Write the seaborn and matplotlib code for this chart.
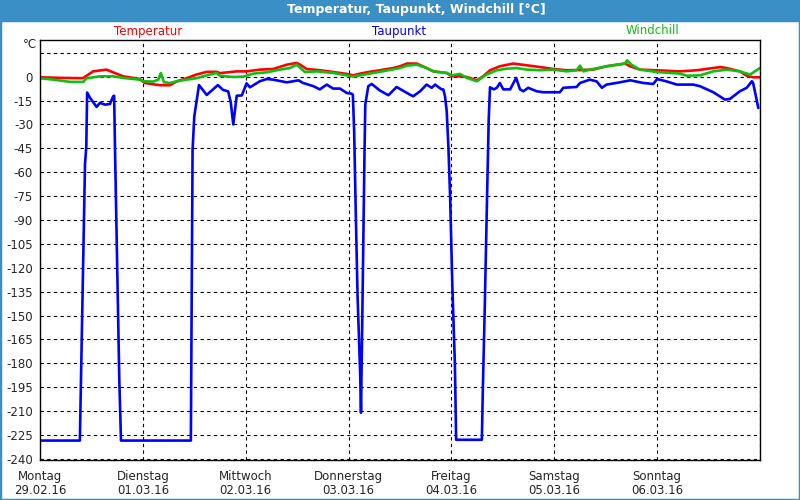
import numpy as np
import pandas as pd
import matplotlib
matplotlib.use("Agg")
import matplotlib.pyplot as plt
from matplotlib.patches import Rectangle
import seaborn as sns

# Stunden ab Montag 29.02.16 00:00
temp_h = [0, 5, 10, 12.4, 15.5, 19.4, 23.3, 24.5, 28, 30.3, 31.9, 34.2, 36.5, 38.9, 41.2,
          42, 45.9, 48.2, 51.3, 54.4, 57.6, 59.9, 60.7, 62.2, 65.3, 68.4, 71.6, 73.1, 74.7,
          76.2, 79.3, 82.4, 84, 85.6, 87.9, 90.2, 91.8, 94.9, 96.1, 98.8, 100.3, 101.9,
          103.4, 105, 107.3, 110.4, 113.6, 116.7, 119.8, 122.9, 126, 129.1, 132.2, 136.5,
          137.7, 140, 143.9, 149.3, 153.2, 157.1, 158.7, 160.2, 163.3, 164.9, 166.4, 168]
temp_v = [-0.4, -0.8, -1.0, 3.3, 4.4, 0.2, -1.5, -4, -5.4, -5.4, -3, -1, 1.3, 3, 3,
          2.2, 3.3, 3.3, 4.4, 4.8, 7.5, 8.6, 7.5, 4.8, 4, 2.9, 1.7, 0.8, 1.9,
          2.7, 4, 5.4, 6.5, 8.2, 8.2, 5.4, 3.3, 2.3, 0.2, 0.2, -0.8, -2.3,
          0.2, 4, 6.5, 8.2, 7.1, 6, 4.8, 4, 4.2, 4.4, 6.5, 8.2,
          6.5, 4.4, 4, 3.3, 4, 5.4, 6, 5.4, 3.3, 0.6, -0.4, -0.4]

wind_h = [0, 3.5, 7, 10.1, 10.9, 14, 17.1, 19.4, 23.3, 24.1, 26.4, 27.6, 28.2, 28.9, 30.3,
          31.9, 34.2, 36.5, 38.9, 41.2, 42, 45.1, 47.4, 49.8, 52.9, 56, 58.3, 59.9, 61.8,
          64.6, 68.4, 71.6, 73.1, 74.7, 77.8, 80.9, 84, 85.6, 87.9, 90.2, 91.8, 94.9, 96.1,
          98, 99.6, 101.9, 104.2, 106.6, 108.9, 111.2, 113.6, 116.7, 119.8, 122.9, 125.2,
          126, 126.8, 128.3, 132.2, 136.5, 137, 138, 140, 143.9, 149.3, 150.9, 154, 157.1,
          160.2, 163.3, 165.7, 166.8, 168]
wind_v = [-1, -2, -3.3, -3.3, -1, 0.2, 0.2, -0.8, -1.9, -2.9, -3.1, -1.9, 2.3, -3.5, -4,
          -2.9, -1.9, -1, 0.8, 2.3, 0.5, -0.2, 0, 1.9, 2.7, 4.4, 5.4, 7.5, 2.9,
          3.3, 2.3, 0.8, 0, 0.8, 2.3, 3.8, 5.4, 6.9, 7.5, 5.4, 3.3, 2.3, 0.8,
          1.7, -0.8, -2.9, 1.3, 4, 5, 5.4, 4.4, 4, 4.4, 3.3, 4,
          6.9, 3.3, 4.4, 6.5, 8.2, 10.2, 7.5, 4.4, 2.9, 1.9, 0.6, 0.8, 3.3,
          4.4, 3.3, 1.3, 3.3, 5.4]

taup_h = [0, 9.3, 10.5, 10.8, 11.0, 11.7, 13.2, 14, 15.2, 16.3, 17.1, 17.3, 17.5, 18.5, 18.9,
          35.2, 35.6, 36.0, 37.1, 38.9, 41.5, 42.7, 43.9, 44.5, 45.1, 45.9, 47.1, 48.2, 49,
          51.3, 52.9, 54.4, 57.6, 59.1, 60.3, 61.4, 63.8, 65.3, 66.9, 68.4, 70, 71.6, 72.7,
          73.0, 73.3, 73.7, 74.1, 74.7, 74.9, 75.3, 75.7, 75.9, 76.6, 77.4, 79.3, 81.3, 83.2,
          86.3, 87.1, 88.7, 90.2, 91.4, 92.2, 93.7, 94.1, 94.5, 94.9, 95.3, 95.7, 96.2, 96.8,
          97.1, 103.1, 103.3, 103.8, 104.2, 104.7, 105, 105.9, 106.6, 107.3, 108.1, 109.7,
          111.1, 112, 112.8, 113.9, 115.9, 117.4, 121.3, 122.1, 125.2, 126, 128.3, 129.9,
          131.1, 132.2, 135.3, 137.7, 140.8, 143.1, 144, 146.2, 148.6, 152.4, 154, 157.1,
          159.8, 161, 163.3, 164.9, 166.1, 166.4, 167.2, 167.6]
taup_v = [-228.5, -228.5, -55, -44, -10, -13.4, -19, -16.5, -17.6, -17.2, -12.3, -12, -45, -190, -228.5,
          -228.5, -46, -25, -5.3, -11.5, -5.3, -8.3, -9.3, -16, -30, -12, -11.8, -4.2, -6.7,
          -2.9, -1.5, -1.9, -3.6, -2.9, -2.3, -4, -6, -8, -5, -7.5, -7.5, -10.3, -10.7,
          -11.3, -34, -88, -138, -186, -211, -132, -51, -17.5, -6, -4.6, -8.7, -11.7, -6.5,
          -11.3, -12.3, -9.2, -5, -7, -5, -8, -8, -12.3, -21.7, -44.6, -76, -130, -180,
          -228, -228, -200, -142, -90, -27, -6.7, -8, -7, -4, -8, -8,
          -0.8, -8, -9.2, -7, -9.2, -9.8, -9.8, -7, -6.5, -4, -1.9, -3,
          -7, -5, -3.6, -2.3, -4, -4.6, -1.5, -3, -5, -5, -6, -9.8,
          -14.4, -14, -9.2, -7, -2.9, -4, -14.4, -19.7]

tage = ["Montag\n29.02.16", "Dienstag\n01.03.16", "Mittwoch\n02.03.16", "Donnerstag\n03.03.16",
        "Freitag\n04.03.16", "Samstag\n05.03.16", "Sonntag\n06.03.16", ""]
y_ticks = list(range(-240, 16, 15))

ROT = "#ff0000"
BLAU = "#0000ff"
GRUEN = "#10c010"
BALKEN = "#3b8fc7"

sns.set_theme(style="white")
plt.rcParams['font.family'] = ['DejaVu Sans']

fig = plt.figure(figsize=(8, 5), dpi=100)
fig.patch.set_facecolor("white")
ax = fig.add_axes([0.05, 0.08, 0.90, 0.84])

df_t = pd.DataFrame({"h": temp_h, "v": temp_v})
df_w = pd.DataFrame({"h": wind_h, "v": wind_v})
df_d = pd.DataFrame({"h": taup_h, "v": taup_v})

sns.lineplot(data=df_t, x="h", y="v", ax=ax, color=ROT, linewidth=1.9, estimator=None)
sns.lineplot(data=df_w, x="h", y="v", ax=ax, color=GRUEN, linewidth=1.9, estimator=None)
sns.lineplot(data=df_d, x="h", y="v", ax=ax, color=BLAU, linewidth=1.9, estimator=None)

ax.set_xlim(0, 168)
ax.set_ylim(-240.7, 23)
ax.set_xticks(range(0, 169, 24))
ax.set_xticklabels(tage, fontsize=8.5, linespacing=1.15)
ax.set_yticks(y_ticks)
ax.set_yticklabels([str(t) for t in y_ticks[:-1]] + [""], fontsize=8.5)
ax.tick_params(axis="x", length=3, width=0.8, color="black", pad=4)
ax.tick_params(axis="y", length=0, pad=5)
ax.set_xlabel("")
ax.set_ylabel("")
ax.grid(True, color="black", linestyle=(0, (3, 3)), linewidth=0.8)
for s in ax.spines.values():
    s.set_color("black")
    s.set_linewidth(1)
ax.set_facecolor("white")

# Einheit oben links
fig.text(30 / 800, 1 - 45 / 500, "°C", ha="center", va="center", fontsize=8.5)

# Legende als farbige Texte
fig.text(148 / 800, 1 - 31 / 500, "Temperatur", color=ROT, ha="center", va="center", fontsize=8.5)
fig.text(399 / 800, 1 - 31 / 500, "Taupunkt", color=BLAU, ha="center", va="center", fontsize=8.5)
fig.text(652 / 800, 1 - 31 / 500, "Windchill", color=GRUEN, ha="center", va="center", fontsize=8.5)

# Titelleiste und Rahmen
fig.patches.append(Rectangle((0, 1 - 20 / 500), 1, 20 / 500, transform=fig.transFigure,
                             facecolor=BALKEN, edgecolor="none", zorder=0))
fig.patches.append(Rectangle((0, 0), 1, 1 - 20 / 500, transform=fig.transFigure,
                             facecolor="none", edgecolor=BALKEN, linewidth=2.5, zorder=5))
fig.text(416 / 800, 1 - 10 / 500, "Temperatur, Taupunkt, Windchill [°C]", color="white",
         ha="center", va="center", fontsize=9, fontweight="bold")

fig.savefig("out.png", dpi=100)
